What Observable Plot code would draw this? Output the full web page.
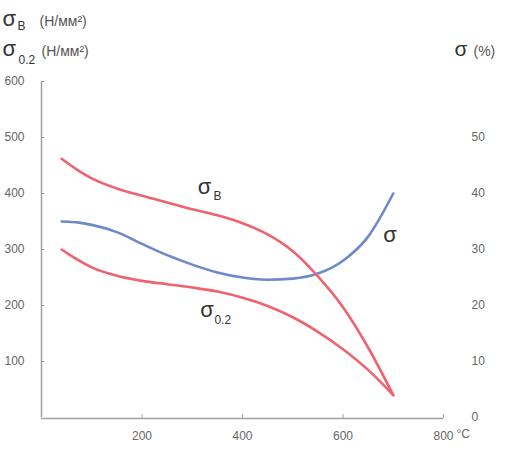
<!DOCTYPE html>
<html>
<head>
<meta charset="utf-8">
<script src="https://cdn.jsdelivr.net/npm/d3@7"></script>
<script src="https://cdn.jsdelivr.net/npm/@observablehq/plot@0.6"></script>
<style>
  html, body { margin: 0; padding: 0; background: #fff; }
</style>
</head>
<body>
<div id="chart"></div>
<script>
// Temperature (°C)
const temps   = [40, 75, 100, 150, 200, 250, 300, 350, 400, 450, 500, 550, 600, 650, 700];
// σB tensile strength (Н/мм²)
const sigmaB  = [462, 440, 427, 409, 396, 384, 372, 361, 347, 327, 297, 252, 197, 125, 40];
// σ0.2 yield strength (Н/мм²)
const sigma02 = [300, 280, 268, 253, 244, 238, 232, 225, 214, 199, 179, 153, 122, 85, 40];
// σ elongation (%)
const elong   = [35.0, 34.8, 34.4, 33.1, 31.0, 29.0, 27.3, 25.9, 25.0, 24.6, 24.8, 25.7, 28.0, 32.3, 40.0];

const leftTicks  = [100, 200, 300, 400, 500, 600];
const rightTicks = [0, 10, 20, 30, 40, 50];
const xTicks     = [200, 400, 600, 800];

const rows = temps.map((t, i) => ({t, b: sigmaB[i], p: sigma02[i], e: elong[i]}));

const red = "#f0626f";
const blue = "#6d88cb";
const axisGray = "#a0a0a0";
const tickText = "#666";
const dark = "#333";
const font = "'Liberation Sans', Arial, sans-serif";

const lbl = (s, o) => Plot.text([s], {text: d => d, lineAnchor: "bottom", fontFamily: font, ...o});

const chart = Plot.plot({
  width: 520,
  height: 451,
  marginTop: 81,
  marginBottom: 34,
  marginLeft: 41,
  marginRight: 77,
  x: {domain: [0, 800]},
  y: {domain: [0, 600]},
  style: {fontFamily: font, fontSize: "12px", color: tickText, background: "#fff"},
  marks: [
    // axis lines
    Plot.ruleX([0], {y1: 0, y2: 600, stroke: axisGray, strokeWidth: 1.5}),
    Plot.ruleY([0], {x1: 0, x2: 800, stroke: axisGray, strokeWidth: 1.5, dy: 1}),
    // inward ticks
    Plot.ruleY(leftTicks, {x1: 0, x2: 7, stroke: axisGray}),
    Plot.ruleX(xTicks, {y1: 0, y2: 7, stroke: axisGray, dy: 1}),
    // tick labels
    Plot.axisY({ticks: leftTicks, anchor: "left", tickSize: 0, tickPadding: 17, label: null, fill: tickText, fontSize: 12}),
    Plot.axisY({ticks: rightTicks.map(d => d * 10), tickFormat: d => String(d / 10), anchor: "right", tickSize: 0, tickPadding: 28, textAnchor: "start", label: null, fill: tickText, fontSize: 12}),
    Plot.axisX({ticks: xTicks, tickSize: 0, tickPadding: 14, label: null, fill: tickText, fontSize: 12}),
    Plot.text(["°C"], {text: d => d, x: [800], frameAnchor: "bottom", dx: 13, dy: 20, textAnchor: "start", lineAnchor: "bottom", fill: tickText, fontSize: 12}),

    // curves
    Plot.line(rows, {x: "t", y: d => d.e * 10, stroke: blue, strokeWidth: 2.6, curve: "monotone-x"}),
    Plot.line(rows, {x: "t", y: "b", stroke: red, strokeWidth: 2.6, curve: "monotone-x"}),
    Plot.line(rows, {x: "t", y: "p", stroke: red, strokeWidth: 2.6, curve: "monotone-x"}),

    // curve labels (anchored to data points at 350 °C / 650 °C)
    Plot.text(["σ"], {text: d => d, x: [temps[7]], y: [sigmaB[7]], dx: -6, dy: -21, textAnchor: "end", lineAnchor: "bottom", fontSize: 22, fill: dark}),
    Plot.text(["B"], {text: d => d, x: [temps[7]], y: [sigmaB[7]], dx: -4, dy: -15, textAnchor: "start", lineAnchor: "bottom", fontSize: 12, fill: dark}),
    Plot.text(["σ"], {text: d => d, x: [temps[13]], y: [elong[13] * 10], dx: 15, dy: 5, textAnchor: "start", lineAnchor: "bottom", fontSize: 22, fill: dark}),
    Plot.text(["σ"], {text: d => d, x: [temps[7]], y: [sigma02[7]], dx: -3.5, dy: 25, textAnchor: "end", lineAnchor: "bottom", fontSize: 22, fill: dark}),
    Plot.text(["0.2"], {text: d => d, x: [temps[7]], y: [sigma02[7]], dx: -3, dy: 32, textAnchor: "start", lineAnchor: "bottom", fontSize: 12, fill: dark}),

    // header axis titles
    lbl("σ",  {frameAnchor: "top-left", dx: -39, dy: -56, textAnchor: "start", fontSize: 22, fill: dark}),
    lbl("B",  {frameAnchor: "top-left", dx: -24, dy: -52, textAnchor: "start", fontSize: 12, fill: dark}),
    lbl("(Н/мм²)", {frameAnchor: "top-left", dx: -2, dy: -56, textAnchor: "start", fontSize: 14, fill: "#555"}),
    lbl("σ",  {frameAnchor: "top-left", dx: -39, dy: -26, textAnchor: "start", fontSize: 22, fill: dark}),
    lbl("0.2", {frameAnchor: "top-left", dx: -23, dy: -18, textAnchor: "start", fontSize: 12, fill: dark}),
    lbl("(Н/мм²)", {frameAnchor: "top-left", dx: 0, dy: -26, textAnchor: "start", fontSize: 14, fill: "#555"}),
    lbl("σ",  {frameAnchor: "top-right", dx: 11, dy: -26, textAnchor: "start", fontSize: 21, fill: dark}),
    lbl("(%)", {frameAnchor: "top-right", dx: 30, dy: -26, textAnchor: "start", fontSize: 14, fill: "#555"})
  ]
});

document.getElementById("chart").appendChild(chart);
</script>
</body>
</html>
